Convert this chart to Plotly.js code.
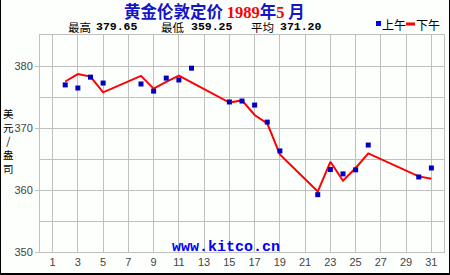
<!DOCTYPE html>
<html>
<head>
<meta charset="utf-8">
<script src="https://cdn.plot.ly/plotly-3.0.1.min.js"></script>
<style>
html,body{margin:0;padding:0;background:#fcfffc;}
#wrap{position:relative;width:450px;height:275px;}
#chart{width:450px;height:275px;}
#frame{position:absolute;left:0;top:0;width:450px;height:275px;box-sizing:border-box;border-left:1px solid #000;border-right:1px solid #000;border-bottom:2px solid #000;pointer-events:none;}
</style>
</head>
<body>
<div id="wrap"><div id="chart"></div><div id="frame"></div></div>
<script>
// ---- data (gold London fix, May 1989, USD/oz) ----
const amDays = [2,3,4,5,8,9,10,11,12,15,16,17,18,19,22,23,24,25,26,30,31];
const amPrice = [376.95,376.45,378.20,377.25,377.10,375.95,378.05,377.75,379.65,374.20,374.35,373.70,370.95,366.30,359.25,363.30,362.60,363.25,367.25,362.10,363.55];
const pmDays = [2,3,4,5,8,9,10,11,12,15,16,17,18,19,22,23,24,25,26,30,31];
const pmPrice = [377.50,378.70,378.30,375.75,378.40,376.35,377.45,378.45,377.35,374.10,374.45,372.10,370.75,365.75,359.75,364.55,361.50,363.55,365.90,362.20,361.80];
const xTickVals = [1,3,5,7,9,11,13,15,17,19,21,23,25,27,29,31];
const titleParts = ["黄金伦敦定价 ", "1989", "年", "5", " 月"];
const statLabels = ["最高", "最低", "平均"];
const statValues = ["379.65", "359.25", "371.20"];
const legendNames = ["上午", "下午"];
const yTitleChars = ["美", "元", "/", "盎", "司"];
const watermark = "www.kitco.cn";

// ---- layout helpers (pixel -> paper) ----
const W = 450, H = 275, ML = 40, MR = 6, MT = 35, MB = 23;
const PW = W - ML - MR, PH = H - MT - MB;
const px = x => (x - ML) / PW;
const py = y => (H - MB - y) / PH;

const blue = '#1414c8', red = '#ff0000';
const cjk = '"Noto Sans CJK SC", sans-serif';
const mono = '"Liberation Mono", "DejaVu Sans Mono", monospace';

const titleText =
  '<span style="color:' + blue + '">' + titleParts[0] + '</span>' +
  '<span style="color:' + red + ';font-family:Liberation Serif">' + titleParts[1] + '</span>' +
  '<span style="color:' + blue + '">' + titleParts[2] + '</span>' +
  '<span style="color:' + red + ';font-family:Liberation Serif">' + titleParts[3] + '</span>' +
  '<span style="color:' + blue + '">' + titleParts[4] + '</span>';

const ann = [];
function A(text, x, y, font, extra) {
  ann.push(Object.assign({text: text, xref: 'paper', yref: 'paper', x: px(x), y: py(y),
    xanchor: 'center', yanchor: 'middle', showarrow: false, borderpad: 0, font: font}, extra || {}));
}
A('<b>' + titleText + '</b>', 214, 10.5, {family: cjk, size: 16.5, color: blue});
const labelX = [79, 173, 262], valueX = [117, 212, 301];
for (let i = 0; i < 3; i++) {
  A(statLabels[i], labelX[i], 26.5, {family: cjk, size: 11.5, color: '#000'});
  A('<b>' + statValues[i] + '</b>', valueX[i], 26.5, {family: mono, size: 11.5, color: '#000'});
}
A(legendNames[0], 393.5, 25, {family: cjk, size: 12, color: '#000'});
A(legendNames[1], 427.5, 25, {family: cjk, size: 12, color: '#000'});
A(yTitleChars.join('<br>'), 8, 141, {family: cjk, size: 10.5, color: '#000'});
A('<b>' + watermark + '</b>', 225.5, 247, {family: mono, size: 15, color: '#0000ff'});

const shapes = [
  {type: 'rect', xref: 'paper', yref: 'paper', x0: px(376), x1: px(381), y0: py(26), y1: py(21),
   fillcolor: '#0000ff', line: {width: 0}},
  {type: 'line', xref: 'paper', yref: 'paper', x0: px(406), x1: px(415), y0: py(24), y1: py(24),
   line: {color: red, width: 3}}
];

const traces = [
  {x: pmDays, y: pmPrice, type: 'scatter', mode: 'lines', line: {color: red, width: 2}, hoverinfo: 'skip'},
  {x: amDays, y: amPrice, type: 'scatter', mode: 'markers',
   marker: {symbol: 'square', size: 5, color: '#0000c0', line: {width: 0}}, hoverinfo: 'skip'}
];

const layout = {
  width: W, height: H,
  margin: {l: ML, r: MR, t: MT, b: MB, pad: 0},
  paper_bgcolor: '#fcfffc', plot_bgcolor: '#fcfffc',
  showlegend: false, hovermode: false,
  xaxis: {range: [0, 32], tickvals: xTickVals, ticks: '', showgrid: true, gridcolor: '#c0c0c0', gridwidth: 1,
    zeroline: false, showline: true, mirror: true, linecolor: '#c0c0c0', linewidth: 1,
    tickfont: {family: 'Liberation Sans, Arial, sans-serif', size: 11, color: '#444'}},
  yaxis: {range: [350, 385], tick0: 350, dtick: 10, ticks: 'outside', ticklen: 4, tickcolor: '#c0c0c0',
    showgrid: true, gridcolor: '#c0c0c0', gridwidth: 1,
    minor: {dtick: 5, showgrid: true, gridcolor: '#c0c0c0', gridwidth: 1, ticks: ''},
    zeroline: false, showline: true, mirror: true, linecolor: '#c0c0c0', linewidth: 1,
    tickfont: {family: 'Liberation Sans, Arial, sans-serif', size: 11, color: '#444'}},
  annotations: ann,
  shapes: shapes
};

Plotly.newPlot('chart', traces, layout, {displayModeBar: false, staticPlot: true});
</script>
</body>
</html>
